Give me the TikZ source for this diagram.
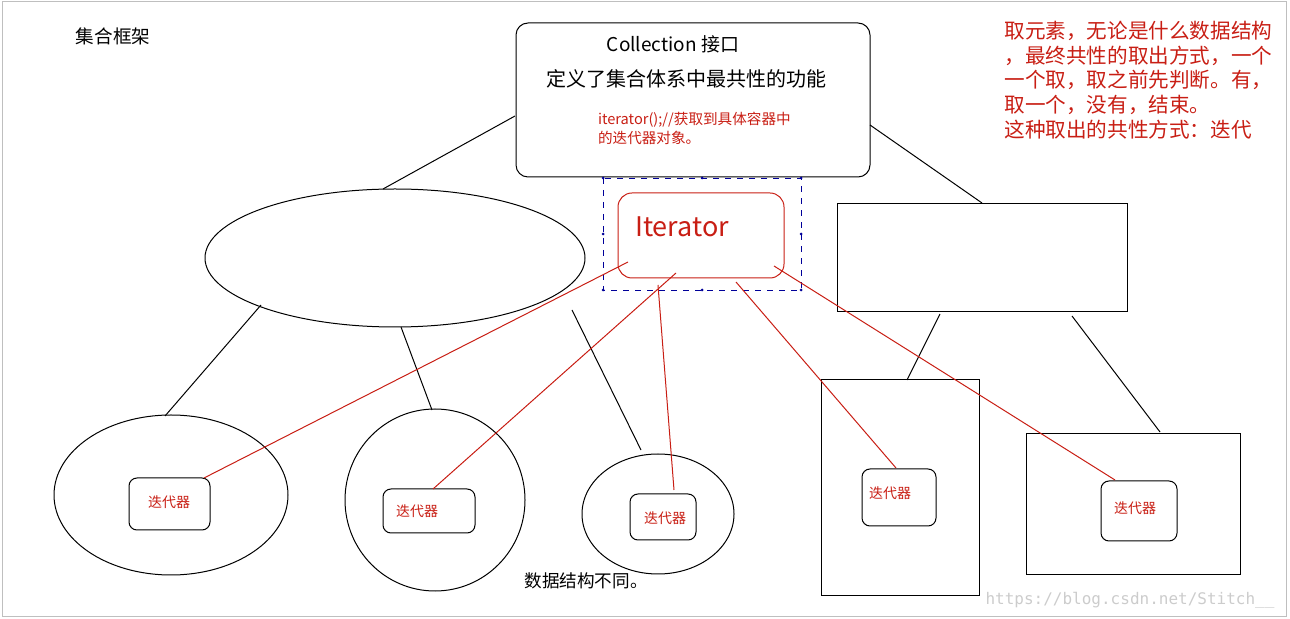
\documentclass[tikz,border=0pt]{standalone}
\usepackage{fontspec}
\setmainfont{Noto Sans CJK SC}
\setmonofont{DejaVu Sans Mono}
\definecolor{rd}{RGB}{200,30,20}
\begin{document}
\begin{tikzpicture}[x=0.5pt,y=-0.5pt,
  ln/.style={draw=black,line width=0.5pt},
  rl/.style={draw=rd,line width=0.5pt},
  small/.style={font=\fontsize{7}{8}\selectfont},
  box/.style={draw,rounded corners=4pt,line width=0.5pt}]
\useasboundingbox (0,0) rectangle (1290,619);
\draw[gray!50,line width=0.5pt] (2,2) rectangle (1286,616);
\node[font=\fontsize{9.3}{10}\selectfont] (t1) at (113,36) {集合框架};
\draw[box,rounded corners=6pt] (516,23) rectangle (870,177);
\coordinate (cl) at (515,116); \coordinate (cr) at (870,125);
\node[font=\fontsize{9.5}{10}\selectfont] (ct) at (673,44) {Collection 接口};
\node[font=\fontsize{10}{10}\selectfont] (cd) at (686,79) {定义了集合体系中最共性的功能};
\node[font=\fontsize{7.3}{9.5}\selectfont,text=rd,anchor=west,align=left] (ci) at (591,128) {iterator();//获取到具体容器中\\的迭代器对象。};
\draw[blue!60!black,dashed,line width=0.4pt] (603,178) rectangle (801,290);
\foreach \p in {(603,178),(702,178),(801,178),(603,234),(801,234),(603,290),(702,290),(801,290)} \fill[blue!60!black] \p circle (1.5);
\draw[box,draw=rd,rounded corners=7pt] (618,193) rectangle (784,278);
\node[text=rd,font=\fontsize{13.5}{15}\selectfont] (it) at (682,227) {Iterator};
\node[text=rd,anchor=north west,align=left,font=\fontsize{10.3}{12.3}\selectfont,inner sep=0] (rt) at (1004,21) {取元素，无论是什么数据结构\\，最终共性的取出方式，一个\\一个取，取之前先判断。有，\\取一个，没有，结束。\\这种取出的共性方式：迭代};
\draw[ln] (395,258) ellipse (190 and 69);
\draw[ln] (837,204) rectangle (1127,312);
\draw[ln] (cl) -- (383,189);
\draw[ln] (cr) -- (982,203);
\draw[ln] (261,305) -- (165,416);
\draw[ln] (401,327) -- (432,410);
\draw[ln] (572,310) -- (641,450);
\draw[ln] (171,495) ellipse (117 and 80);
\draw[ln] (435,500) ellipse (90 and 91);
\draw[ln] (658,514) ellipse (76 and 60);
\draw[ln] (821,380) rectangle (979,596);
\draw[ln] (1026,434) rectangle (1240,575);
\draw[ln] (940,314) -- (907,380);
\draw[ln] (1072,316) -- (1160,432);
\draw[box] (129,478) rectangle (210,530);
\draw[box] (383,489) rectangle (475,533);
\draw[box] (630,494) rectangle (696,540);
\draw[box] (862,469) rectangle (936,526);
\draw[box] (1101,481) rectangle (1177,541);
\node[small,text=rd] (b1) at (169,502) {迭代器};
\node[small,text=rd] (b2) at (417,511) {迭代器};
\node[small,text=rd] (b3) at (665,518) {迭代器};
\node[small,text=rd] (b4) at (890,493) {迭代器};
\node[small,text=rd] (b5) at (1135,508) {迭代器};
\draw[rl] (628,262) -- (204,478);
\draw[rl] (676,273) -- (433,489);
\draw[rl] (658,285) -- (674,490);
\draw[rl] (736,282) -- (896,468);
\draw[rl] (774,266) -- (1115,480);
\node[font=\fontsize{8.8}{10}\selectfont] (dt) at (586,581) {数据结构不同。};
\node[text=gray!40,font=\ttfamily\fontsize{8}{10}\selectfont] (wm) at (1130,600) {https://blog.csdn.net/Stitch\_\_};
\end{tikzpicture}
\end{document}
